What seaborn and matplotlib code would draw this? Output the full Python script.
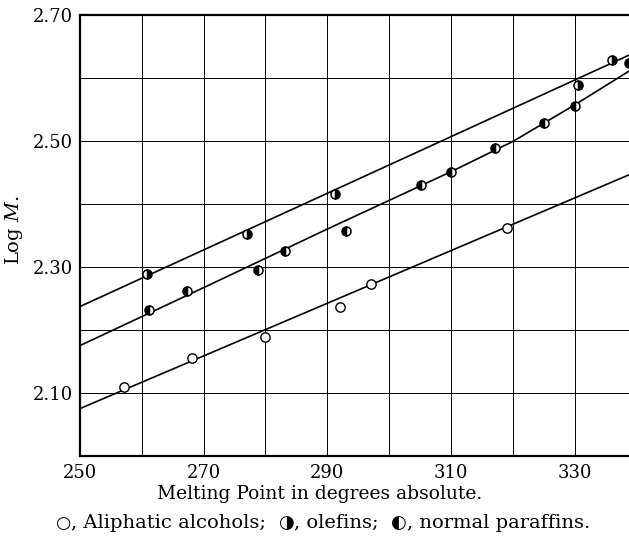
import pandas as pd
import seaborn as sns
import matplotlib.pyplot as plt
from matplotlib.ticker import MultipleLocator, FixedLocator, FormatStrFormatter
from matplotlib.offsetbox import TextArea, HPacker, AnchoredOffsetbox

# points
alc_mp = [257.2, 268.1, 280.0, 292.0, 297.0, 319.0]
alc_logm = [2.109, 2.155, 2.189, 2.237, 2.273, 2.361]
olef_mp = [260.8, 277.0, 291.2, 330.6, 336.0]
olef_logm = [2.289, 2.352, 2.416, 2.589, 2.629]
par_mp = [261.2, 267.4, 278.8, 283.2, 293.0, 305.2, 310.0, 317.2, 325.0, 330.1, 338.8]
par_logm = [2.231, 2.262, 2.295, 2.325, 2.357, 2.430, 2.451, 2.488, 2.528, 2.556, 2.623]

# drawn curves
alc_line_mp = [250, 339]
alc_line_logm = [2.075, 2.447]
olef_line_mp = [250, 339]
olef_line_logm = [2.237, 2.637]
par_curve_mp = [250, 270, 290, 310, 320, 330, 339]
par_curve_logm = [2.175, 2.267, 2.360, 2.451, 2.499, 2.557, 2.612]

xticks = [250, 270, 290, 310, 330]
yticks = [2.10, 2.30, 2.50, 2.70]

sns.set_style("white")
plt.rcParams["font.family"] = ["DejaVu Serif", "DejaVu Sans"]
plt.rcParams["mathtext.fontset"] = "dejavuserif"

fig = plt.figure(figsize=(6.29, 5.44), dpi=100)
ax = fig.add_axes([0.127, 0.162, 0.873, 0.8106])

line_kw = dict(color="black", linewidth=1.2, estimator=None, legend=False)
sns.lineplot(x=alc_line_mp, y=alc_line_logm, ax=ax, **line_kw)
sns.lineplot(x=olef_line_mp, y=olef_line_logm, ax=ax, **line_kw)
sns.lineplot(x=par_curve_mp, y=par_curve_logm, ax=ax, **line_kw)

sns.scatterplot(x=alc_mp, y=alc_logm, ax=ax, s=45, facecolor="white",
                edgecolor="black", linewidth=1.0, zorder=5)
half_kw = dict(linestyle="", marker="o", markersize=6.5, color="black",
               markeredgecolor="black", markeredgewidth=1.1,
               markerfacecoloralt="white", estimator=None, zorder=5)
sns.lineplot(x=olef_mp, y=olef_logm, ax=ax, fillstyle="right", **half_kw)
sns.lineplot(x=par_mp, y=par_logm, ax=ax, fillstyle="left", **half_kw)

ax.set_xlim(250, 338.8)
ax.set_ylim(2.0, 2.70)
ax.xaxis.set_major_locator(FixedLocator(xticks))
ax.xaxis.set_minor_locator(MultipleLocator(10))
ax.yaxis.set_major_locator(FixedLocator(yticks))
ax.yaxis.set_minor_locator(MultipleLocator(0.1))
ax.yaxis.set_major_formatter(FormatStrFormatter("%.2f"))
ax.grid(which="both", color="black", linewidth=0.7)
ax.tick_params(which="both", length=0, labelsize=13, colors="black")
ax.tick_params(axis="y", pad=5)
ax.tick_params(axis="x", pad=6)

for side in ["top", "left", "bottom"]:
    ax.spines[side].set_color("black")
    ax.spines[side].set_linewidth(1.6)
ax.spines["right"].set_visible(False)

ax.set_xlabel("Melting Point in degrees absolute.", fontsize=13.5, va="top",
              color="black")
ax.xaxis.set_label_coords(0.437, -0.066)
ax.set_ylabel("Log $M$.", fontsize=14, color="black")
ax.yaxis.set_label_coords(-0.100, 0.512)

# caption with symbol glyphs sized like capitals
pieces = [("○", 12.5), (", Aliphatic alcohols;  ", 14), ("◑", 13),
          (", olefins;  ", 14), ("◐", 13), (", normal paraffins.", 14)]
boxes = [TextArea(t, textprops=dict(fontsize=fs, color="black")) for t, fs in pieces]
caption = HPacker(children=boxes, align="baseline", pad=0, sep=0)
anchored = AnchoredOffsetbox(loc="center", child=caption, frameon=False,
                             bbox_to_anchor=(0.5135, 0.039),
                             bbox_transform=fig.transFigure, borderpad=0)
fig.add_artist(anchored)

fig.savefig("out.png", dpi=100)
